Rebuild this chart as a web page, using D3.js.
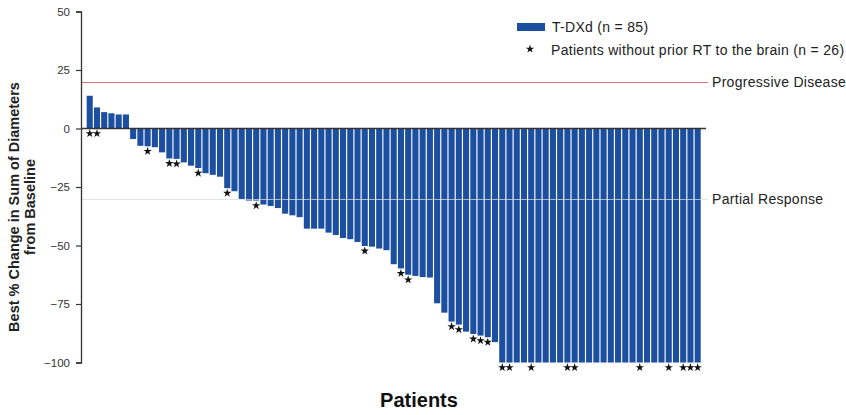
<!DOCTYPE html>
<html>
<head>
<meta charset="utf-8">
<script src="https://cdn.jsdelivr.net/npm/d3@7"></script>
<style>
  html, body { margin: 0; padding: 0; background: #fff; }
  svg { display: block; font-family: "Liberation Sans", Arial, Helvetica, sans-serif; }
</style>
</head>
<body>
<svg id="chart" width="846" height="415"></svg>
<script>
// Best % change in sum of diameters from baseline, one value per patient (sorted)
const bestChange = [
  14, 9, 7, 6.5, 6, 6,
  -4.5, -7.4, -7.6, -8, -10.2, -12.8, -13, -14.5, -15.9, -16.9,
  -19.1, -19.8, -20.6, -25.5, -26.8, -30.1, -30.8, -30.8, -32.5, -33.1,
  -34, -36.4, -37.1, -37.9, -42.8, -42.8, -42.8, -44.5, -45.5, -46.8,
  -47.3, -48.5, -50.2, -50.5, -51.3, -52, -58, -59.8, -62.5, -63,
  -63.5, -63.7, -74.7, -78.7, -82.5, -83.8, -86.8, -87.8, -88.5, -89.2,
  -91.3,
  -100, -100, -100, -100, -100, -100, -100, -100, -100, -100,
  -100, -100, -100, -100, -100, -100, -100, -100, -100, -100,
  -100, -100, -100, -100, -100, -100, -100, -100
];
// Patients (by position) without prior radiotherapy to the brain
const noPriorRT = [0, 1, 8, 11, 12, 15, 19, 23, 38, 43, 44, 50, 51, 53, 54, 55,
                   57, 58, 61, 66, 67, 76, 80, 82, 83, 84];
const yTicks = [50, 25, 0, -25, -50, -75, -100];
const thresholds = [
  { value: 20, label: "Progressive Disease" },
  { value: -30, label: "Partial Response" }
];
const legendItems = ["T-DXd (n = 85)", "Patients without prior RT to the brain (n = 26)"];

const svg = d3.select("#chart");
const barColor = "#1c4f9f";

const y = d3.scaleLinear().domain([-100, 50]).range([362.5, 11.5]);
const x = d3.scaleBand()
  .domain(d3.range(bestChange.length))
  .range([86.4, 701])
  .paddingInner(0.16)
  .paddingOuter(0.04);

const axisX = 81;
const lineEnd = 708;
// snap thin horizontal rules to the pixel grid
const crisp = v => Math.round(v) + 0.5;

// bars
svg.append("g").selectAll("rect")
  .data(bestChange)
  .join("rect")
  .attr("x", (d, i) => x(i))
  .attr("width", x.bandwidth())
  .attr("y", d => y(Math.max(0, d)))
  .attr("height", d => Math.abs(y(d) - y(0)))
  .attr("fill", barColor);

// reference lines
svg.append("line")
  .attr("x1", axisX).attr("x2", lineEnd)
  .attr("y1", crisp(y(thresholds[0].value))).attr("y2", crisp(y(thresholds[0].value)))
  .attr("stroke", "#e4707f").attr("stroke-width", 1);
svg.append("line")
  .attr("x1", axisX).attr("x2", lineEnd)
  .attr("y1", crisp(y(thresholds[1].value))).attr("y2", crisp(y(thresholds[1].value)))
  .attr("stroke", "#d6dde6").attr("stroke-opacity", 0.75).attr("stroke-width", 1);

svg.append("g").selectAll("text")
  .data(thresholds)
  .join("text")
  .attr("x", 712)
  .attr("y", d => y(d.value) + 5.5)
  .attr("font-size", 14)
  .attr("letter-spacing", 0.3)
  .attr("fill", "#222")
  .text(d => d.label);

// zero baseline
svg.append("line")
  .attr("x1", axisX).attr("x2", 706)
  .attr("y1", y(0)).attr("y2", y(0))
  .attr("stroke", "#333").attr("stroke-width", 1.5);

// stars under selected bars
const star = d3.symbol().type(d3.symbolStar).size(22);
svg.append("g").selectAll("path")
  .data(noPriorRT)
  .join("path")
  .attr("d", star)
  .attr("transform", i => {
    const v = bestChange[i];
    const yy = v >= 0 ? y(0) + 5 : y(v) + 5;
    return `translate(${x(i) + x.bandwidth() / 2},${yy})`;
  })
  .attr("fill", "#111");

// y axis
const yAxis = svg.append("g")
  .attr("transform", `translate(${axisX},0)`)
  .call(d3.axisLeft(y).tickValues(yTicks).tickSize(5).tickPadding(6));
yAxis.select(".domain").attr("stroke", "#333").attr("stroke-width", 1.3);
yAxis.selectAll(".tick line").attr("stroke", "#333").attr("stroke-width", 1.2);
yAxis.selectAll(".tick text")
  .attr("font-size", 11.5)
  .attr("fill", "#333")
  .attr("font-family", "'Liberation Sans', Arial, sans-serif");

// y axis title
const yTitle = svg.append("text")
  .attr("transform", "translate(19,207) rotate(-90)")
  .attr("text-anchor", "middle")
  .attr("font-size", 14.5)
  .attr("font-weight", "bold")
  .attr("fill", "#222");
yTitle.append("tspan").attr("x", 0).attr("dy", 0).text("Best % Change in Sum of Diameters");
yTitle.append("tspan").attr("x", 0).attr("dy", 16).text("from Baseline");

// x axis title
svg.append("text")
  .attr("x", 419).attr("y", 407)
  .attr("text-anchor", "middle")
  .attr("font-size", 20)
  .attr("font-weight", "bold")
  .attr("fill", "#111")
  .text("Patients");

// legend
const legend = svg.append("g");
legend.append("rect")
  .attr("x", 517).attr("y", 23).attr("width", 28).attr("height", 8)
  .attr("fill", barColor);
legend.append("text")
  .attr("x", 552).attr("y", 32)
  .attr("font-size", 14).attr("letter-spacing", 0.3).attr("fill", "#222")
  .text(legendItems[0]);
legend.append("path")
  .attr("d", star)
  .attr("transform", "translate(530,49)")
  .attr("fill", "#111");
legend.append("text")
  .attr("x", 551).attr("y", 54.5)
  .attr("font-size", 14).attr("letter-spacing", 0.3).attr("fill", "#222")
  .text(legendItems[1]);
</script>
</body>
</html>
